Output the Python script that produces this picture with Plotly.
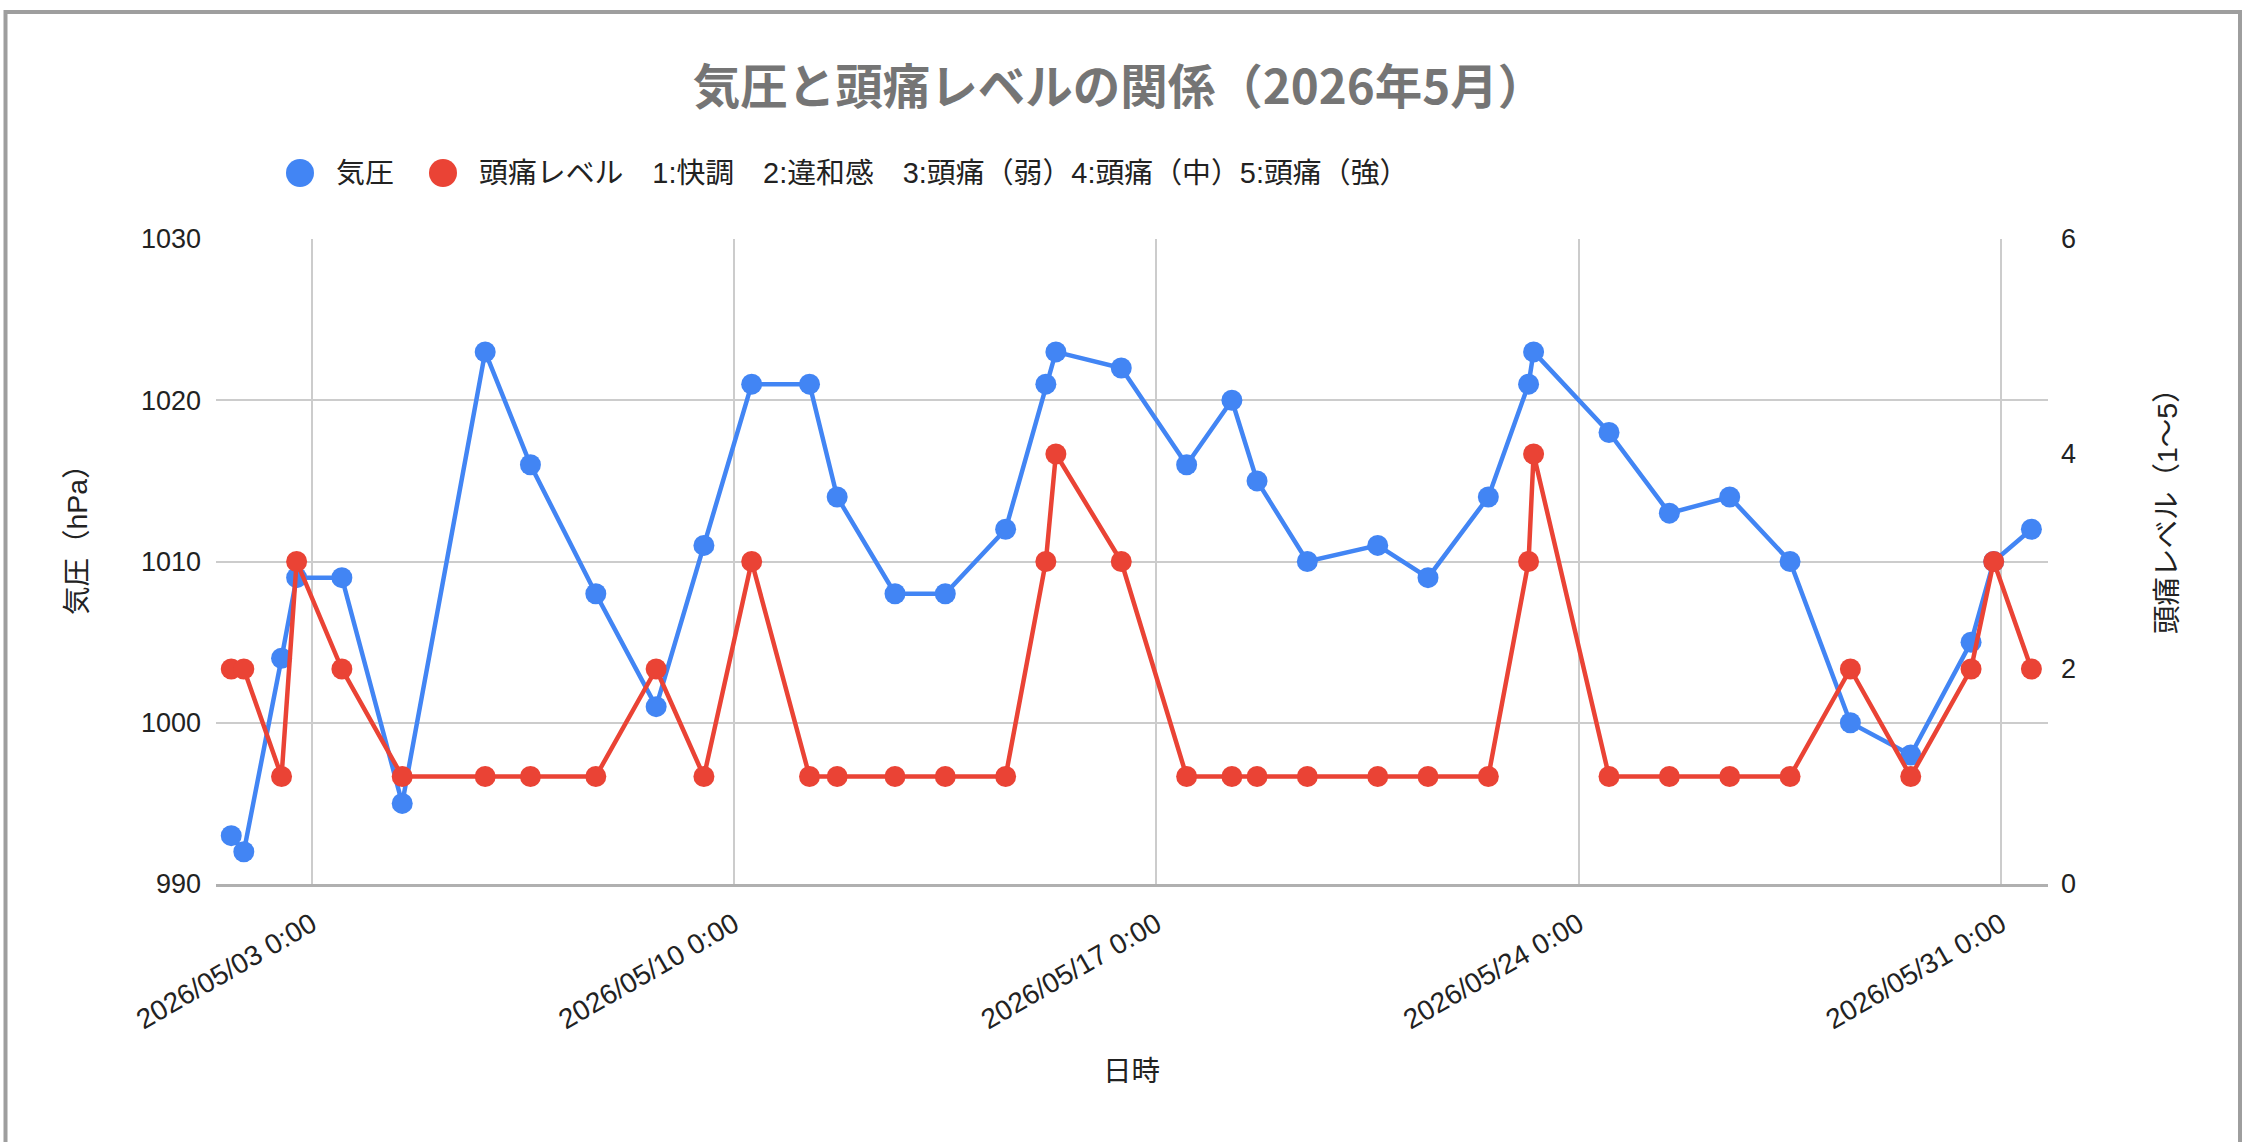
import plotly.graph_objects as go

# ---------------- data ----------------
dates = [
    "2026-05-01 16:00", "2026-05-01 21:00", "2026-05-02 12:00", "2026-05-02 18:00",
    "2026-05-03 12:00", "2026-05-04 12:00", "2026-05-05 21:00", "2026-05-06 15:00",
    "2026-05-07 17:00", "2026-05-08 17:00", "2026-05-09 12:00", "2026-05-10 07:00",
    "2026-05-11 06:00", "2026-05-11 17:00", "2026-05-12 16:00", "2026-05-13 12:00",
    "2026-05-14 12:00", "2026-05-15 04:00", "2026-05-15 08:00", "2026-05-16 10:00",
    "2026-05-17 12:00", "2026-05-18 06:00", "2026-05-18 16:00", "2026-05-19 12:00",
    "2026-05-20 16:00", "2026-05-21 12:00", "2026-05-22 12:00", "2026-05-23 04:00",
    "2026-05-23 06:00", "2026-05-24 12:00", "2026-05-25 12:00", "2026-05-26 12:00",
    "2026-05-27 12:00", "2026-05-28 12:00", "2026-05-29 12:00", "2026-05-30 12:00",
    "2026-05-30 21:00", "2026-05-31 12:00",
]
pressure = [993, 992, 1004, 1009, 1009, 995, 1023, 1016, 1008, 1001,
            1011, 1021, 1021, 1014, 1008, 1008, 1012, 1021, 1023, 1022,
            1016, 1020, 1015, 1010, 1011, 1009, 1014, 1021, 1023, 1018,
            1013, 1014, 1010, 1000, 998, 1005, 1010, 1012]
headache = [2, 2, 1, 3, 2, 1, 1, 1, 1, 2,
            1, 3, 1, 1, 1, 1, 1, 3, 4, 3,
            1, 1, 1, 1, 1, 1, 1, 3, 4, 1,
            1, 1, 1, 2, 1, 2, 3, 2]

series_names = ["気圧", "頭痛レベル　1:快調　2:違和感　3:頭痛（弱）4:頭痛（中）5:頭痛（強）"]
series_colors = ["#4285F4", "#EA4335"]
title_text = "気圧と頭痛レベルの関係（2026年5月）"
x_title = "日時"
y_title = "気圧（hPa）"
y2_title = "頭痛レベル（1〜5）"
y_ticks = [990, 1000, 1010, 1020, 1030]
y2_ticks = [0, 2, 4, 6]
x_range = ["2026-05-01 09:56", "2026-05-31 18:36"]
x_tick0 = "2026-05-03"

# ---------------- layout geometry ----------------
W, H = 2246, 1142
L, R, T, B = 216, 2048, 239, 884


def px(x):
    return (x - L) / (R - L)


def py(y):
    return (B - y) / (B - T)


FONT = "Arial, 'Liberation Sans', 'Noto Sans CJK JP', sans-serif"
TXT = "#222222"
GRID = "#cccccc"

fig = go.Figure()
fig.add_trace(go.Scatter(
    x=dates, y=pressure, name=series_names[0], mode="lines+markers",
    line=dict(color=series_colors[0], width=4.5),
    marker=dict(color=series_colors[0], size=21),
    yaxis="y", showlegend=False,
))
fig.add_trace(go.Scatter(
    x=dates, y=headache, name=series_names[1], mode="lines+markers",
    line=dict(color=series_colors[1], width=4.5),
    marker=dict(color=series_colors[1], size=21),
    yaxis="y2", showlegend=False,
))

annotations = [
    dict(text=y_title, x=px(77), y=py(533), xref="paper", yref="paper",
         textangle=-90, showarrow=False, xanchor="center", yanchor="middle",
         font=dict(family=FONT, size=28.5, color=TXT)),
    dict(text=y2_title, x=px(2167), y=py(504), xref="paper", yref="paper",
         textangle=-90, showarrow=False, xanchor="center", yanchor="middle",
         font=dict(family=FONT, size=28.5, color=TXT)),
    dict(text=x_title, x=px(1131), y=py(1071), xref="paper", yref="paper",
         showarrow=False, xanchor="center", yanchor="middle",
         font=dict(family=FONT, size=28.5, color=TXT)),
]

shapes = [
    # chart frame
    dict(type="rect", xref="paper", yref="paper",
         x0=px(5.5), x1=px(2240), y0=py(1170), y1=py(12),
         line=dict(color="#9e9e9e", width=4), fillcolor="rgba(0,0,0,0)", layer="below"),
]

# legend (circle + text)
leg_sym_x = [300, 443]
leg_txt_x = [334, 477]
leg_y = 173
for i in range(2):
    shapes.append(dict(type="circle", xref="paper", yref="paper",
                       xsizemode="pixel", ysizemode="pixel",
                       xanchor=px(leg_sym_x[i]), yanchor=py(leg_y),
                       x0=-14, x1=14, y0=-14, y1=14,
                       fillcolor=series_colors[i], line=dict(width=0)))
    annotations.append(dict(text=series_names[i], x=px(leg_txt_x[i]), y=py(leg_y),
                            xref="paper", yref="paper", showarrow=False,
                            xanchor="left", yanchor="middle",
                            font=dict(family=FONT, size=28.9, color=TXT)))

fig.update_layout(
    width=W, height=H,
    margin=dict(l=L, r=W - R, t=T, b=H - B, autoexpand=False),
    paper_bgcolor="white", plot_bgcolor="white",
    title=dict(text=title_text, xref="container", yref="container",
               x=1119 / W, y=1 - 87 / H, xanchor="center", yanchor="middle",
               font=dict(family="'Noto Sans CJK JP', sans-serif", size=47.5,
                         color="#757575", weight="bold")),
    xaxis=dict(type="date", range=x_range, tick0=x_tick0, dtick=7 * 86400000,
               tickformat="%Y/%m/%d %-H:%M", tickangle=-30,
               showgrid=True, gridcolor=GRID, gridwidth=2,
               showline=True, linecolor="#b0b0b0", linewidth=3,
               zeroline=False, ticks="", automargin=False,
               ticklabelstandoff=10,
               tickfont=dict(family=FONT, size=28, color=TXT)),
    yaxis=dict(range=[990, 1030], tickvals=y_ticks,
               showgrid=True, gridcolor=GRID, gridwidth=2,
               zeroline=False, ticks="", automargin=False,
               ticklabelstandoff=14,
               tickfont=dict(family=FONT, size=27, color=TXT)),
    yaxis2=dict(range=[0, 6], tickvals=y2_ticks, overlaying="y", side="right",
                showgrid=False, zeroline=False, ticks="", automargin=False,
                ticklabelstandoff=12,
                tickfont=dict(family=FONT, size=27, color=TXT)),
    showlegend=False,
    annotations=annotations,
    shapes=shapes,
)

fig.write_html("out.html")
